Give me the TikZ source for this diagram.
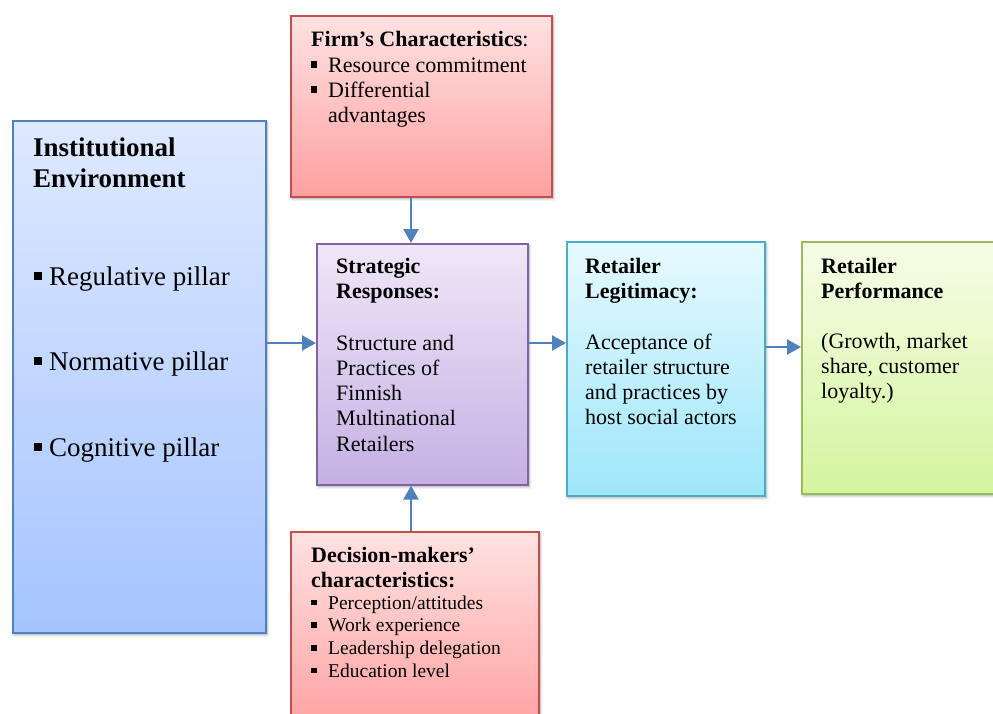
\documentclass[tikz,border=0pt]{standalone}
\usepackage{fontspec}
\setmainfont{Liberation Serif}
\usetikzlibrary{arrows.meta,shadows.blur}

\definecolor{arrowblue}{RGB}{79,129,189}
\definecolor{instline}{RGB}{79,129,189}
\definecolor{insttop}{RGB}{222,233,255}
\definecolor{instbot}{RGB}{165,196,255}
\definecolor{redline}{RGB}{192,80,77}
\definecolor{redtop}{RGB}{255,226,226}
\definecolor{redbot}{RGB}{255,160,160}
\definecolor{purline}{RGB}{128,100,162}
\definecolor{purtop}{RGB}{239,231,247}
\definecolor{purbot}{RGB}{198,176,228}
\definecolor{cyanline}{RGB}{75,172,198}
\definecolor{cyantop}{RGB}{230,250,255}
\definecolor{cyanbot}{RGB}{158,230,250}
\definecolor{greenline}{RGB}{155,187,89}
\definecolor{greentop}{RGB}{245,253,230}
\definecolor{greenbot}{RGB}{212,244,158}

% square list bullet followed by a fixed indent
\newcommand\sqbul[1]{\makebox[#1][l]{\rule[0.2em]{0.28em}{0.28em}}}

\begin{document}
\begin{tikzpicture}[x=1pt,y=-1pt,
  box/.style={draw, line width=1.6pt, inner sep=0pt, anchor=north west,
    blur shadow={shadow xshift=1.5pt, shadow yshift=-2pt,
      shadow blur radius=2.5pt, shadow opacity=35}},
  txt/.style={anchor=base west, inner sep=0pt},
  big/.style={font=\fontsize{27}{31}\selectfont},
  mid/.style={font=\fontsize{22}{25.5}\selectfont},
  small/.style={font=\fontsize{19.5}{22.7}\selectfont},
  arr/.style={draw=arrowblue, line width=2.4pt,
    -{Triangle[length=14pt,width=15pt]}}]

\clip (0,0) rectangle (993,713);

% boxes
\node[box, draw=instline, top color=insttop, bottom color=instbot,
  minimum width=253pt, minimum height=512pt] (inst) at (12,120) {};
\node[box, draw=redline, top color=redtop, bottom color=redbot,
  minimum width=261pt, minimum height=181pt] (firm) at (290,15) {};
\node[box, draw=purline, top color=purtop, bottom color=purbot,
  minimum width=211pt, minimum height=241pt] (strat) at (316,243) {};
\node[box, draw=cyanline, top color=cyantop, bottom color=cyanbot,
  minimum width=198pt, minimum height=254pt] (legit) at (566,241) {};
\node[box, draw=greenline, top color=greentop, bottom color=greenbot,
  minimum width=220pt, minimum height=252pt] (perf) at (801,241) {};
\node[box, draw=redline, top color=redtop, bottom color=redbot,
  minimum width=248pt, minimum height=200pt] (dec) at (290,531) {};

% institutional environment
\node[txt, big] (inst-h1) at (33,156) {\textbf{Institutional}};
\node[txt, big] (inst-h2) at (33,187) {\textbf{Environment}};
\node[txt, big] (inst-b1) at (34,285) {\sqbul{15pt}Regulative pillar};
\node[txt, big] (inst-b2) at (34,370) {\sqbul{15pt}Normative pillar};
\node[txt, big] (inst-b3) at (34,456) {\sqbul{15pt}Cognitive pillar};

% firm's characteristics
\node[txt, mid] (firm-h) at (311,46) {\textbf{Firm’s Characteristics}:};
\node[txt, mid] (firm-b1) at (311,72) {\sqbul{17pt}Resource commitment};
\node[txt, mid] (firm-b2) at (311,97) {\sqbul{17pt}Differential};
\node[txt, mid] (firm-b2b) at (328,122) {advantages};

% strategic responses
\foreach \t [count=\i] in {\textbf{Strategic},\textbf{Responses:}}
  \node[txt, mid] (strat-h\i) at (336,{273+(\i-1)*25.3}) {\t};
\foreach \t [count=\i] in {Structure and,Practices of,Finnish,Multinational,Retailers}
  \node[txt, mid] (strat-l\i) at (336,{350+(\i-1)*25.3}) {\t};

% retailer legitimacy
\foreach \t [count=\i] in {\textbf{Retailer},\textbf{Legitimacy:}}
  \node[txt, mid] (legit-h\i) at (585,{273+(\i-1)*25.3}) {\t};
\foreach \t [count=\i] in {Acceptance of,retailer structure,and practices by,host social actors}
  \node[txt, mid] (legit-l\i) at (585,{349+(\i-1)*25.3}) {\t};

% retailer performance
\foreach \t [count=\i] in {\textbf{Retailer},\textbf{Performance}}
  \node[txt, mid] (perf-h\i) at (821,{273+(\i-1)*25}) {\t};
\foreach \t [count=\i] in {{(Growth, market},{share, customer},loyalty.)}
  \node[txt, mid] (perf-l\i) at (821,{348+(\i-1)*25}) {\t};

% decision-makers' characteristics
\node[txt, mid] (dec-h1) at (311,562) {\textbf{Decision-makers’}};
\node[txt, mid] (dec-h2) at (311,587) {\textbf{characteristics:}};
\foreach \t [count=\i] in {Perception/attitudes,Work experience,Leadership delegation,Education level}
  \node[txt, small] (dec-b\i) at (311,{609+(\i-1)*22.7}) {\sqbul{17pt}\t};

% connectors
\coordinate (col) at (411,0);
\coordinate (rowA) at (0,343);
\coordinate (rowB) at (0,347);
\draw[arr] (firm.south -| col) -- (strat.north -| col);
\draw[arr] (dec.north -| col) -- (strat.south -| col);
\draw[arr] (inst.east |- rowA) -- (strat.west |- rowA);
\draw[arr] (strat.east |- rowA) -- (legit.west |- rowA);
\draw[arr] (legit.east |- rowB) -- (perf.west |- rowB);
\end{tikzpicture}
\end{document}
